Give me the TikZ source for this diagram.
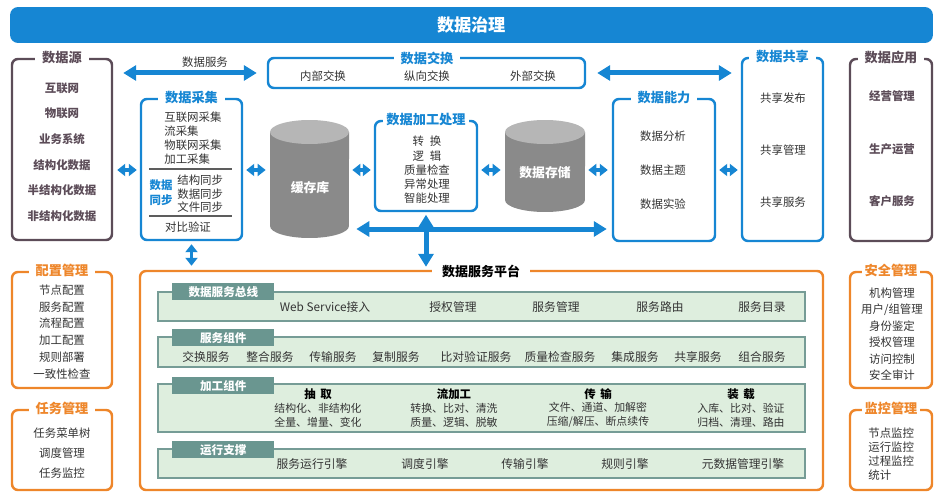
\documentclass[tikz,border=0pt]{standalone}
\usepackage{fontspec}
\setmainfont{Noto Sans CJK SC}
\usetikzlibrary{arrows.meta, fit, positioning}

\definecolor{govblue}{RGB}{22,134,211}
\definecolor{srcgrey}{RGB}{92,76,88}
\definecolor{mgorange}{RGB}{238,134,42}
\definecolor{rowgreen}{RGB}{222,238,222}
\definecolor{rowline}{RGB}{118,156,150}
\definecolor{tabteal}{RGB}{106,150,144}
\definecolor{cylbody}{RGB}{138,138,138}
\definecolor{cyltop}{RGB}{182,182,182}
\definecolor{txtgrey}{RGB}{52,52,52}

\tikzset{
	box/.style = {draw, rounded corners=0.12cm, line width=1.4pt, inner sep=0pt},
	bluebox/.style = {box, draw=govblue},
	greybox/.style = {box, draw=srcgrey},
	orangebox/.style = {box, draw=mgorange},
	boxtitle/.style = {fill=white, inner xsep=0.14cm, inner ysep=1pt, font=\fontsize{7.5}{8}\selectfont\bfseries},
	bluetitle/.style = {boxtitle, text=govblue},
	greytitle/.style = {boxtitle, text=srcgrey},
	orangetitle/.style = {boxtitle, text=mgorange},
	item/.style = {inner sep=0pt, text=txtgrey, font=\fontsize{6.5}{8}\selectfont},
	srcitem/.style = {item, text=srcgrey, align=center, font=\fontsize{6.5}{14.6}\selectfont\bfseries},
	sepline/.style = {draw=txtgrey!80, line width=0.6pt},
	cyllabel/.style = {text=white, font=\fontsize{7.3}{8}\selectfont\bfseries},
	dbl/.style = {govblue, line width=0.1cm, {Triangle[width=0.3cm, length=0.26cm]}-{Triangle[width=0.3cm, length=0.26cm]}},
	sdbl/.style = {govblue, line width=0.07cm, {Triangle[width=0.24cm, length=0.16cm]}-{Triangle[width=0.24cm, length=0.16cm]}},
	rowbox/.style = {draw=rowline, fill=rowgreen, line width=0.9pt, inner sep=0pt},
	rowtab/.style = {fill=tabteal, text=white, inner sep=0pt, minimum width=2.04cm, minimum height=0.34cm, font=\fontsize{6.6}{7}\selectfont\bfseries},
	rowitem/.style = {item, font=\fontsize{6.7}{8}\selectfont},
	colhead/.style = {item, text=black, font=\fontsize{6.5}{8}\selectfont\bfseries},
	collines/.style = {item, align=center, font=\fontsize{6.2}{7.9}\selectfont}
}

\begin{document}
\begin{tikzpicture}[x=0.02cm, y=-0.02cm]

	\useasboundingbox (0,0) rectangle (943,500);

	% title bar
	\node[fill=govblue, rounded corners=0.16cm, minimum width=18.46cm, minimum height=0.72cm,
	text=white, font=\fontsize{9.8}{10}\selectfont\bfseries] (gov) at (471.5,25) {数据治理};

	% data sources and applications
	\node[greybox, fit={(12,59) (112,240)}] (src) {};
	\node[greytitle] (srct) at (src.north) {数据源};
	\node[srcitem] (srclist) at (62,152) {互联网\\物联网\\业务系统\\结构化数据\\半结构化数据\\非结构化数据};

	\node[greybox, fit={(850,59) (932,241)}] (app) {};
	\node[greytitle] (appt) at (app.north) {数据应用};
	\node[srcitem, font=\fontsize{6.5}{29.8}\selectfont\bfseries] (applist) at (892,149) {经营管理\\生产运营\\客户服务};

	% exchange and sharing
	\node[bluebox, fit={(268,58) (585,88)}] (ex) {};
	\node[bluetitle] (ext) at (427,58) {数据交换};
	\node[item] (ex-in) at (323,76) {内部交换};
	\node[item] (ex-v) at (427,76) {纵向交换};
	\node[item] (ex-out) at (533,76) {外部交换};

	\node[bluebox, fit={(742,58) (823,241)}] (share) {};
	\node[bluetitle] (sharet) at (share.north) {数据共享};
	\node[item, align=center, font=\fontsize{6.5}{29.8}\selectfont] (sharelist) at (783,150) {共享发布\\共享管理\\共享服务};

	% collection
	\node[bluebox, fit={(141,99) (242,240)}] (cj) {};
	\node[bluetitle] (cjt) at (cj.north) {数据采集};
	\node[item, anchor=west, align=left, font=\fontsize{6.5}{8.1}\selectfont] (cjlist) at (164,138) {互联网采集\\流采集\\物联网采集\\加工采集};
	\draw[sepline] (149,169) -- (232,169);
	\node[item, text=govblue, align=center, font=\fontsize{6.5}{8.5}\selectfont\bfseries] (sync) at (161,193) {数据\\同步};
	\node[item, anchor=west, align=left, font=\fontsize{6.5}{7.7}\selectfont] (synclist) at (177,194) {结构同步\\数据同步\\文件同步};
	\draw[sepline] (149,216) -- (232,216);
	\node[item] (cjchk) at (188,227) {对比验证};

	% cache cylinder
	\fill[cylbody] (270,132) -- (270,226) arc[start angle=180, end angle=360, x radius=0.79cm, y radius=0.24cm] -- (349,132) -- cycle;
	\fill[cyltop] (309.5,132) ellipse[x radius=0.79cm, y radius=0.24cm];
	\node[fit={(270,120) (349,238)}, inner sep=0pt] (cache) {};
	\node[cyllabel] (cachet) at (310,188) {缓存库};

	% processing
	\node[bluebox, fit={(375,121) (477,211)}] (jg) {};
	\node[bluetitle, inner xsep=0.06cm] (jgt) at (jg.north) {数据加工处理};
	\node[item, align=center, font=\fontsize{6.5}{8.1}\selectfont] (jglist) at (427,170) {转\hspace{0.5em}换\\逻\hspace{0.5em}辑\\质量检查\\异常处理\\智能处理};

	% storage cylinder
	\fill[cylbody] (505,132) -- (505,200) arc[start angle=180, end angle=360, x radius=0.8cm, y radius=0.24cm] -- (585,132) -- cycle;
	\fill[cyltop] (545,132) ellipse[x radius=0.8cm, y radius=0.24cm];
	\node[fit={(505,120) (585,212)}, inner sep=0pt] (store) {};
	\node[cyllabel] (storet) at (545,173) {数据存储};

	% capability
	\node[bluebox, fit={(613,99) (715,241)}] (cap) {};
	\node[bluetitle] (capt) at (cap.north) {数据能力};
	\node[item, align=center, font=\fontsize{6.5}{19.3}\selectfont] (caplist) at (663,170) {数据分析\\数据主题\\数据实验};

	% arrows
	\coordinate (midy) at (0,170);
	\coordinate (busy) at (0,229);
	\draw[dbl, shorten <=0.2cm, shorten >=0.2cm] (src.east |- ex.west) -- (ex.west);
	\node[item] (svc) at (205,62) {数据服务};
	\draw[dbl, shorten <=0.22cm, shorten >=0.18cm] (ex.east) -- (share.west |- ex.east);
	\draw[sdbl, shorten <=0.08cm, shorten >=0.06cm] (src.east |- midy) -- (cj.west |- midy);
	\draw[sdbl, shorten <=0.06cm, shorten >=0.08cm] (cj.east |- midy) -- (cache.west |- midy);
	\draw[sdbl, shorten <=0.06cm, shorten >=0.06cm] (cache.east |- midy) -- (jg.west |- midy);
	\draw[sdbl, shorten <=0.06cm, shorten >=0.08cm] (jg.east |- midy) -- (store.west |- midy);
	\draw[sdbl, shorten <=0.06cm, shorten >=0.08cm] (store.east |- midy) -- (cap.west |- midy);
	\draw[sdbl, shorten <=0.06cm, shorten >=0.06cm] (cap.east |- midy) -- (share.west |- midy);
	\draw[dbl, shorten <=0.14cm, shorten >=0.1cm] (cache.east |- busy) -- (cap.west |- busy);

	% service platform
	\node[orangebox, fit={(140,271) (823,490)}] (plat) {};
	\node[boxtitle, font=\fontsize{7.4}{8}\selectfont\bfseries, text=black, inner xsep=0.2cm] (platt) at (481,271) {数据服务平台};
	\draw[dbl, shorten <=0.05cm, shorten >=0.06cm] (jg.south) -- (jg.south |- plat.north);
	\draw[sdbl, shorten <=0.06cm, shorten >=0.08cm] (cj.south) -- (cj.south |- plat.north);

	\node[rowbox, fit={(158,292) (805,321)}] (bus) {};
	\node[rowtab, anchor=north west] (bustab) at (172,283) {数据服务总线};
	\foreach \t/\x [count=\i] in {Web Service接入/325, 授权管理/453, 服务管理/556, 服务路由/660, 服务目录/762}
		\node[rowitem] (bus-\i) at (\x,307) {\t};

	\node[rowbox, fit={(158,337) (805,367)}] (comp) {};
	\node[rowtab, anchor=north west] (comptab) at (172,329) {服务组件};
	\foreach \t/\x [count=\i] in {交换服务/206, 整合服务/270, 传输服务/333, 复制服务/396, 比对验证服务/476,
		质量检查服务/560, 集成服务/635, 共享服务/698, 组合服务/762}
		\node[rowitem] (comp-\i) at (\x,357) {\t};

	\node[rowbox, fit={(158,384) (805,432)}] (proc) {};
	\node[rowtab, anchor=north west] (proctab) at (172,377) {加工组件};
	\node[colhead] (ext-h) at (318,394) {抽\hspace{0.4em}取};
	\node[collines] (ext-l) at (318,415) {结构化、非结构化\\全量、增量、变化};
	\node[colhead] (flow-h) at (454,394) {流加工};
	\node[collines] (flow-l) at (454,415) {转换、比对、清洗\\质量、逻辑、脱敏};
	\node[colhead] (tr-h) at (598,394) {传\hspace{0.4em}输};
	\node[collines] (tr-l) at (598,415) {文件、通道、加解密\\压缩/解压、断点续传};
	\node[colhead] (load-h) at (741,394) {装\hspace{0.4em}载};
	\node[collines] (load-l) at (741,415) {入库、比对、验证\\归档、清理、路由};

	\node[rowbox, fit={(158,449) (805,478)}] (run) {};
	\node[rowtab, anchor=north west] (runtab) at (172,441) {运行支撑};
	\foreach \t/\x [count=\i] in {服务运行引擎/312, 调度引擎/425, 传输引擎/525, 规则引擎/625, 元数据管理引擎/743}
		\node[rowitem] (run-\i) at (\x,464) {\t};

	% management boxes
	\node[orangebox, fit={(12,272) (112,388)}] (conf) {};
	\node[orangetitle] (conft) at (conf.north) {配置管理};
	\node[item, align=center, font=\fontsize{6.5}{9.5}\selectfont] (conflist) at (62,332) {节点配置\\服务配置\\流程配置\\加工配置\\规则部署\\一致性检查};

	\node[orangebox, fit={(12,410) (112,490)}] (task) {};
	\node[orangetitle] (taskt) at (task.north) {任务管理};
	\node[item, align=center, font=\fontsize{6.5}{11.3}\selectfont] (tasklist) at (62,453) {任务菜单树\\调度管理\\任务监控};

	\node[orangebox, fit={(850,272) (932,388)}] (sec) {};
	\node[orangetitle, inner xsep=0.05cm] (sect) at (sec.north) {安全管理};
	\node[item, align=center, font=\fontsize{6.5}{9.4}\selectfont] (seclist) at (892,334) {机构管理\\用户/组管理\\身份鉴定\\授权管理\\访问控制\\安全审计};

	\node[orangebox, fit={(850,410) (932,490)}] (mon) {};
	\node[orangetitle, inner xsep=0.05cm] (mont) at (mon.north) {监控管理};
	\node[item, anchor=west, align=left, font=\fontsize{6.5}{8.1}\selectfont] (monlist) at (868,454) {节点监控\\运行监控\\过程监控\\统计};

\end{tikzpicture}
\end{document}
